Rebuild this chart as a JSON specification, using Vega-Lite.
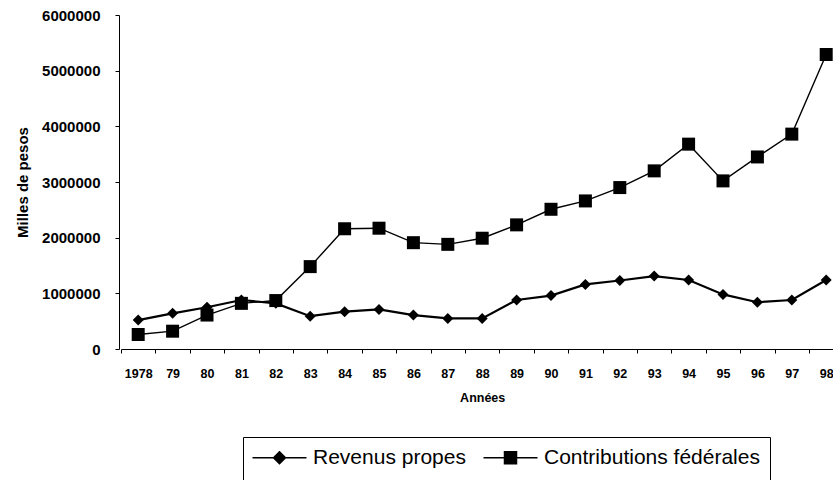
{
  "$schema": "https://vega.github.io/schema/vega-lite/v6.json",
  "width": 714,
  "height": 334,
  "autosize": {"type": "none"},
  "padding": {"left": 119, "top": 15, "right": 0, "bottom": 131},
  "background": "white",
  "config": {
    "font": "Liberation Sans",
    "view": {"stroke": null}
  },
  "data": {
    "values": [
      {"annee": "1978", "serie": "Revenus propes", "valeur": 520000},
      {"annee": "79", "serie": "Revenus propes", "valeur": 640000},
      {"annee": "80", "serie": "Revenus propes", "valeur": 750000},
      {"annee": "81", "serie": "Revenus propes", "valeur": 880000},
      {"annee": "82", "serie": "Revenus propes", "valeur": 820000},
      {"annee": "83", "serie": "Revenus propes", "valeur": 590000},
      {"annee": "84", "serie": "Revenus propes", "valeur": 670000},
      {"annee": "85", "serie": "Revenus propes", "valeur": 710000},
      {"annee": "86", "serie": "Revenus propes", "valeur": 610000},
      {"annee": "87", "serie": "Revenus propes", "valeur": 550000},
      {"annee": "88", "serie": "Revenus propes", "valeur": 550000},
      {"annee": "89", "serie": "Revenus propes", "valeur": 880000},
      {"annee": "90", "serie": "Revenus propes", "valeur": 960000},
      {"annee": "91", "serie": "Revenus propes", "valeur": 1160000},
      {"annee": "92", "serie": "Revenus propes", "valeur": 1230000},
      {"annee": "93", "serie": "Revenus propes", "valeur": 1310000},
      {"annee": "94", "serie": "Revenus propes", "valeur": 1240000},
      {"annee": "95", "serie": "Revenus propes", "valeur": 980000},
      {"annee": "96", "serie": "Revenus propes", "valeur": 840000},
      {"annee": "97", "serie": "Revenus propes", "valeur": 880000},
      {"annee": "98", "serie": "Revenus propes", "valeur": 1240000},
      {"annee": "1978", "serie": "Contributions fédérales", "valeur": 260000},
      {"annee": "79", "serie": "Contributions fédérales", "valeur": 320000},
      {"annee": "80", "serie": "Contributions fédérales", "valeur": 610000},
      {"annee": "81", "serie": "Contributions fédérales", "valeur": 820000},
      {"annee": "82", "serie": "Contributions fédérales", "valeur": 870000},
      {"annee": "83", "serie": "Contributions fédérales", "valeur": 1480000},
      {"annee": "84", "serie": "Contributions fédérales", "valeur": 2160000},
      {"annee": "85", "serie": "Contributions fédérales", "valeur": 2170000},
      {"annee": "86", "serie": "Contributions fédérales", "valeur": 1910000},
      {"annee": "87", "serie": "Contributions fédérales", "valeur": 1880000},
      {"annee": "88", "serie": "Contributions fédérales", "valeur": 1990000},
      {"annee": "89", "serie": "Contributions fédérales", "valeur": 2230000},
      {"annee": "90", "serie": "Contributions fédérales", "valeur": 2510000},
      {"annee": "91", "serie": "Contributions fédérales", "valeur": 2660000},
      {"annee": "92", "serie": "Contributions fédérales", "valeur": 2900000},
      {"annee": "93", "serie": "Contributions fédérales", "valeur": 3200000},
      {"annee": "94", "serie": "Contributions fédérales", "valeur": 3680000},
      {"annee": "95", "serie": "Contributions fédérales", "valeur": 3020000},
      {"annee": "96", "serie": "Contributions fédérales", "valeur": 3450000},
      {"annee": "97", "serie": "Contributions fédérales", "valeur": 3860000},
      {"annee": "98", "serie": "Contributions fédérales", "valeur": 5290000}
    ]
  },
  "encoding": {
    "x": {
      "field": "annee",
      "type": "ordinal",
      "sort": null,
      "bandPosition": 0.5,
      "scale": {"type": "band", "paddingInner": 0, "paddingOuter": 0, "range": [2, 724.4]},
      "axis": {
        "title": "Années",
        "labelAngle": 0,
        "tickBand": "extent",
        "tickSize": 4,
        "labelFontSize": 12.5,
        "labelFontWeight": "bold",
        "labelColor": "black",
        "labelPadding": 14,
        "titleFontSize": 12.5,
        "titleFontWeight": "bold",
        "titleColor": "black",
        "titlePadding": 12,
        "domainColor": "black",
        "tickColor": "black",
        "grid": false
      }
    },
    "y": {
      "field": "valeur",
      "type": "quantitative",
      "scale": {"domain": [0, 6000000], "nice": false, "zero": true},
      "axis": {
        "title": "Milles de pesos",
        "values": [0, 1000000, 2000000, 3000000, 4000000, 5000000, 6000000],
        "format": "d",
        "labelFontSize": 15,
        "labelFontWeight": "bold",
        "labelColor": "black",
        "labelPadding": 15,
        "tickSize": 4,
        "grid": false,
        "domainColor": "black",
        "tickColor": "black",
        "titleFontSize": 15,
        "titleFontWeight": "bold",
        "titleColor": "black",
        "titlePadding": 11
      }
    }
  },
  "layer": [
    {
      "transform": [{"filter": "datum.serie === 'Revenus propes'"}],
      "mark": {"type": "line", "strokeWidth": 2.2},
      "encoding": {
        "color": {
          "field": "serie",
          "type": "nominal",
          "sort": ["Revenus propes", "Contributions fédérales"],
          "scale": {"domain": ["Revenus propes", "Contributions fédérales"], "range": ["black", "black"]},
          "legend": {
            "title": "\u00a0",
            "titleOrient": "bottom",
            "titleFontSize": 14,
            "titlePadding": 6,
            "orient": "none",
            "legendX": 124,
            "legendY": 422,
            "direction": "horizontal",
            "strokeColor": "black",
            "padding": 10,
            "labelFontSize": 21,
            "labelColor": "black",
            "labelFont": "Liberation Sans",
            "labelLimit": 400,
            "symbolSize": 100,
            "symbolOffset": 16,
            "labelOffset": 23,
            "columnPadding": 14,
            "encode": {
              "symbols": {
                "update": {
                  "shape": {"signal": "datum.value === 'Revenus propes' ? 'M-5.4,0L5.4,0M-1.2,0L0,-1.2L1.2,0L0,1.2Z' : 'M-5.4,0L5.4,0M-1.2,-1.2L1.2,-1.2L1.2,1.2L-1.2,1.2Z'"},
                  "fill": {"value": "black"},
                  "stroke": {"value": "black"},
                  "strokeWidth": {"value": 1.5},
                  "opacity": {"value": 1}
                }
              }
            }
          }
        }
      }
    },
    {
      "transform": [{"filter": "datum.serie === 'Contributions fédérales'"}],
      "mark": {"type": "line", "strokeWidth": 1.4},
      "encoding": {
        "color": {"field": "serie", "type": "nominal"}
      }
    },
    {
      "transform": [{"filter": "datum.serie === 'Revenus propes'"}],
      "mark": {"type": "point", "shape": "diamond", "filled": true, "size": 121, "color": "black", "opacity": 1}
    },
    {
      "transform": [{"filter": "datum.serie === 'Contributions fédérales'"}],
      "mark": {"type": "point", "shape": "square", "filled": true, "size": 169, "color": "black", "opacity": 1}
    }
  ]
}
